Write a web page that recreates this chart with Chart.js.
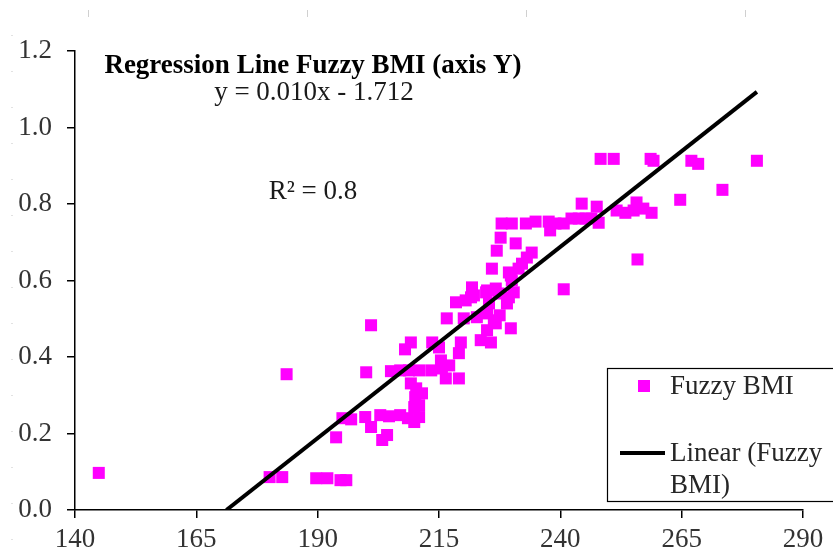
<!DOCTYPE html>
<html>
<head>
<meta charset="utf-8">
<script src="https://cdn.jsdelivr.net/npm/chart.js@4.4.1/dist/chart.umd.min.js"></script>
<style>
  html, body { margin: 0; padding: 0; background: #ffffff; overflow: hidden; }
  #wrap { width: 833px; height: 554px; position: relative; }
</style>
</head>
<body>
<div id="wrap"><canvas id="chart" width="833" height="554"></canvas></div>
<script>
// Observed values (x) and their fuzzy BMI membership (y)
const xValues = [
  144.9, 180.1, 182.7, 183.6, 189.7, 192.0, 194.7, 195.9, 193.8, 195.1,
  196.9, 199.8, 201.0, 200.0, 201.0, 203.3, 204.3, 202.9, 204.7, 207.0,
  208.6, 205.1, 207.0, 208.8, 209.2, 208.0, 209.2, 210.3, 211.5, 210.1,
  209.9, 210.9, 209.9, 210.9, 213.6, 215.0, 210.9, 213.4, 215.6, 215.4,
  217.1, 216.4, 219.1, 216.6, 220.1, 218.5, 220.5, 221.6, 222.2, 224.7,
  226.7, 227.3, 229.4, 230.4, 222.8, 224.9, 226.3, 227.5, 225.3, 229.0,
  229.8, 219.5, 219.1, 223.6, 225.7, 224.9, 226.7, 221.8, 224.9, 225.9,
  229.4, 230.0, 229.8, 231.4, 232.1, 233.1, 234.1, 226.9, 227.7, 230.8,
  227.9, 230.0, 232.9, 234.9, 237.6, 239.0, 240.7, 237.9, 240.7, 242.3,
  243.8, 245.2, 246.4, 247.9, 244.4, 247.5, 251.6, 253.4, 255.1, 255.7,
  257.1, 258.8, 248.3, 251.0, 258.6, 259.2, 255.9, 264.7, 267.0, 268.4,
  273.4, 280.5
];
const bmiValues = [
  0.097, 0.086, 0.086, 0.355, 0.083, 0.083, 0.078, 0.078, 0.190, 0.240,
  0.237, 0.243, 0.217, 0.360, 0.483, 0.183, 0.196, 0.248, 0.245, 0.248,
  0.240, 0.363, 0.365, 0.365, 0.438, 0.420, 0.331, 0.318, 0.305, 0.295,
  0.269, 0.243, 0.230, 0.274, 0.438, 0.425, 0.365, 0.365, 0.370, 0.391,
  0.378, 0.344, 0.344, 0.501, 0.501, 0.543, 0.548, 0.556, 0.561, 0.569,
  0.579, 0.566, 0.556, 0.569, 0.504, 0.514, 0.496, 0.509, 0.540, 0.540,
  0.475, 0.438, 0.410, 0.444, 0.438, 0.470, 0.488, 0.582, 0.574, 0.631,
  0.621, 0.600, 0.613, 0.631, 0.644, 0.660, 0.673, 0.678, 0.712, 0.697,
  0.749, 0.749, 0.749, 0.754, 0.754, 0.749, 0.749, 0.731, 0.577, 0.762,
  0.762, 0.762, 0.762, 0.751, 0.801, 0.793, 0.783, 0.777, 0.783, 0.804,
  0.788, 0.777, 0.918, 0.918, 0.918, 0.913, 0.655, 0.811, 0.913, 0.905,
  0.837, 0.913
];

// Axis ticks
const xTicks = [140, 165, 190, 215, 240, 265, 290];
const yTicks = [0, 0.2, 0.4, 0.6, 0.8, 1.0, 1.2];

// Least-squares trend line as reported on the chart
const trendSlope = 0.010;
const trendIntercept = -1.712;
const rSquared = 0.8;

const seriesLabel = 'Fuzzy BMI';
const trendLabel = 'Linear (Fuzzy BMI)';
const chartTitle = 'Regression Line Fuzzy BMI (axis Y)';

const SERIF = "'Liberation Serif', 'Times New Roman', serif";

const points = xValues.map((x, i) => ({ x: x, y: bmiValues[i] }));

// Trend line spans the data range, starting where it leaves y = 0
const xMaxData = Math.max(...xValues);
const xMinData = Math.min(...xValues);
const xStart = Math.max(xMinData, -trendIntercept / trendSlope);
const trendPoints = [xStart, xMaxData].map(x => ({ x: x, y: trendSlope * x + trendIntercept }));

const fmtSigned = v => (v < 0 ? ' - ' : ' + ') + Math.abs(v).toFixed(3);
const equationText = 'y = ' + trendSlope.toFixed(3) + 'x' + fmtSigned(trendIntercept);
const rSquaredText = 'R\u00B2 = ' + rSquared;

// Faint page ruler marks around the chart
const rulerPlugin = {
  id: 'ruler',
  beforeDraw(chart) {
    const ctx = chart.ctx;
    ctx.save();
    ctx.strokeStyle = '#d0d0d0';
    ctx.lineWidth = 1;
    [88, 307, 526, 745].forEach(x => {
      ctx.beginPath();
      ctx.moveTo(x + 0.5, 10);
      ctx.lineTo(x + 0.5, 17);
      ctx.stroke();
    });
    ctx.fillStyle = '#e2e2e2';
    for (let y = 35; y < 550; y += 36) {
      ctx.fillRect(11, y, 2, 1);
    }
    ctx.restore();
  }
};

// Title, equation and R² text
const annotationPlugin = {
  id: 'annotations',
  afterDatasetsDraw(chart, args, opts) {
    const ctx = chart.ctx;
    ctx.save();
    ctx.textAlign = 'center';
    ctx.textBaseline = 'alphabetic';
    opts.lines.forEach(l => {
      ctx.font = l.font;
      ctx.fillStyle = l.color;
      ctx.fillText(l.text, l.x, l.y);
    });
    ctx.restore();
  }
};

// Boxed legend in the lower right corner
const boxLegendPlugin = {
  id: 'boxLegend',
  afterDraw(chart, args, opts) {
    const ctx = chart.ctx;
    const ds = chart.data.datasets;
    ctx.save();
    ctx.fillStyle = '#ffffff';
    ctx.fillRect(opts.left, opts.top, opts.right - opts.left, opts.bottom - opts.top);
    ctx.strokeStyle = '#000000';
    ctx.lineWidth = 1.2;
    ctx.strokeRect(opts.left + 0.5, opts.top + 0.5, opts.right - opts.left, opts.bottom - opts.top);

    ctx.font = opts.font;
    ctx.fillStyle = opts.color;
    ctx.textAlign = 'left';
    ctx.textBaseline = 'alphabetic';

    // Marker entry
    const m = ds[0];
    const side = 12;
    ctx.fillStyle = m.backgroundColor;
    ctx.fillRect(opts.markerX - side / 2, opts.row1 - side / 2, side, side);
    ctx.fillStyle = opts.color;
    ctx.fillText(m.label, opts.textX, opts.row1 + 8);

    // Line entry
    const l = ds[1];
    ctx.strokeStyle = l.borderColor;
    ctx.lineWidth = l.borderWidth;
    ctx.beginPath();
    ctx.moveTo(opts.lineX0, opts.row2);
    ctx.lineTo(opts.lineX1, opts.row2);
    ctx.stroke();

    const maxW = opts.right - opts.textX;
    const words = l.label.split(' ');
    const lines = [];
    let cur = '';
    words.forEach(w => {
      const test = cur ? cur + ' ' + w : w;
      if (ctx.measureText(test).width > maxW && cur) {
        lines.push(cur);
        cur = w;
      } else {
        cur = test;
      }
    });
    if (cur) lines.push(cur);
    lines.forEach((t, i) => ctx.fillText(t, opts.textX, opts.row2 + 8 + i * opts.lineGap));
    ctx.restore();
  }
};

new Chart(document.getElementById('chart'), {
  type: 'scatter',
  data: {
    datasets: [
      {
        label: seriesLabel,
        data: points,
        pointStyle: 'rect',
        pointRadius: 8.5,
        pointHoverRadius: 8.5,
        backgroundColor: '#ff00ff',
        borderWidth: 0,
        order: 1
      },
      {
        type: 'line',
        label: trendLabel,
        data: trendPoints,
        borderColor: '#000000',
        borderWidth: 4,
        pointRadius: 0,
        fill: false,
        tension: 0,
        order: 0
      }
    ]
  },
  options: {
    responsive: false,
    devicePixelRatio: 1,
    animation: false,
    events: [],
    layout: { padding: { top: 51, right: 30, left: 0, bottom: 0 } },
    plugins: {
      legend: { display: false },
      tooltip: { enabled: false },
      annotations: {
        lines: [
          { text: chartTitle, x: 313, y: 73, font: 'bold 27px ' + SERIF, color: '#000000' },
          { text: equationText, x: 314, y: 100, font: '27px ' + SERIF, color: '#1a1a1a' },
          { text: rSquaredText, x: 313, y: 199, font: '27px ' + SERIF, color: '#1a1a1a' }
        ]
      },
      boxLegend: {
        left: 607, top: 368, right: 840, bottom: 501,
        markerX: 644, row1: 386,
        lineX0: 620, lineX1: 665, row2: 453,
        textX: 670, lineGap: 32,
        font: '27px ' + SERIF, color: '#262626'
      }
    },
    scales: {
      x: {
        type: 'linear',
        min: 140,
        max: 290,
        afterBuildTicks: s => { s.ticks = xTicks.map(v => ({ value: v })); },
        afterFit: s => { s.height = 44; },
        ticks: {
          autoSkip: false,
          maxRotation: 0,
          padding: 6,
          color: '#333333',
          font: { family: SERIF, size: 27 },
          callback: v => String(v)
        },
        grid: { drawOnChartArea: false, drawTicks: true, tickLength: 8, color: '#000000', lineWidth: 1.5 },
        border: { display: true, color: '#000000', width: 1.5 }
      },
      y: {
        type: 'linear',
        min: 0,
        max: 1.2,
        afterBuildTicks: s => { s.ticks = yTicks.map(v => ({ value: v })); },
        afterFit: s => { s.width = 75; },
        ticks: {
          autoSkip: false,
          padding: 15,
          color: '#333333',
          font: { family: SERIF, size: 27 },
          callback: v => Number(v).toFixed(1)
        },
        grid: { drawOnChartArea: false, drawTicks: true, tickLength: 8, color: '#000000', lineWidth: 1.5 },
        border: { display: true, color: '#000000', width: 1.5 }
      }
    }
  },
  plugins: [rulerPlugin, annotationPlugin, boxLegendPlugin]
});
</script>
</body>
</html>
